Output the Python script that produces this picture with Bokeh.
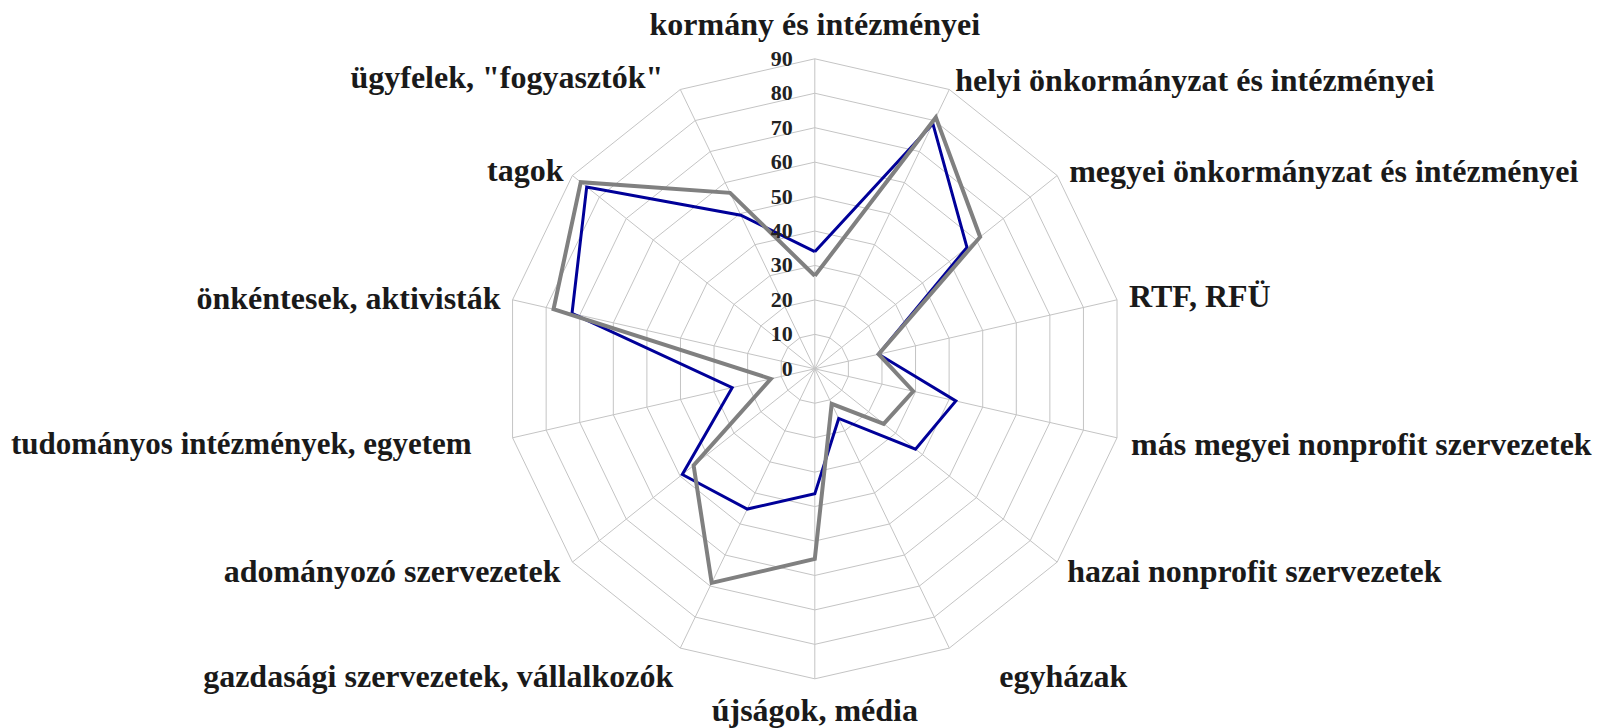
import numpy as np
from bokeh.plotting import figure
from bokeh.models import ColumnDataSource, Range1d
from bokeh.core.properties import value
from bokeh.embed import file_html
from bokeh.resources import INLINE

# ---- data ----
categories = [
    "kormány és intézményei",
    "helyi önkormányzat és intézményei",
    "megyei önkormányzat és intézményei",
    "RTF, RFÜ",
    "más megyei nonprofit szervezetek",
    "hazai nonprofit szervezetek",
    "egyházak",
    "újságok, média",
    "gazdasági szervezetek, vállalkozók",
    "adományozó szervezetek",
    "tudományos intézmények, egyetem",
    "önkéntesek, aktivisták",
    "tagok",
    "ügyfelek, \"fogyasztók\"",
]
series_blue = [34, 79, 56.5, 19, 42, 37.4, 16, 36.3, 45.2, 49.2, 24.6, 72.3, 84.7, 49.5]
series_gray = [27, 81, 61.4, 19, 29.3, 25.6, 11.3, 55.2, 69, 45, 13.1, 77.8, 86.9, 56.7]
tick_values = [0, 10, 20, 30, 40, 50, 60, 70, 80, 90]
tick_labels = [str(t) for t in tick_values]

# ---- layout (pixels) ----
W, H = 1607, 728
CX, CY = 814.3, 368.3          # centre inside the frame
R_PX = 310.0                    # radius of the 90 ring
RMAX = 90.0
S = R_PX / RMAX                 # px per unit
TICK_FS = 22
label_fs = ["32px"] * 10 + ["31px"] + ["32px"] * 3
label_align = ["center", "left", "left", "left", "left", "left", "left",
               "center", "right", "right", "right", "right", "right", "right"]
label_offsets = [(0, -35), (6, -9), (12, -5), (12, -4), (14, 6), (10, 9), (50, 28),
                 (0, 31), (-7, 28), (-12, 9), (-41, 6), (-12, -2), (-9, -6), (-17, -12)]

n = len(categories)
ang = np.arange(n) * 2 * np.pi / n   # clockwise from top


def pol(r, a):
    return r * np.sin(a), r * np.cos(a)


p = figure(width=W, height=H, output_backend="svg", toolbar_location=None,
           x_range=Range1d(-CX / S, (W - CX) / S), y_range=Range1d(-(H - CY) / S, CY / S),
           min_border=0, min_border_left=0, min_border_right=0,
           min_border_top=0, min_border_bottom=0)
p.axis.visible = False
p.grid.visible = False
p.outline_line_color = None
p.background_fill_color = "white"

GRID = "#c4c4c4"
# rings
xs, ys = [], []
for t in tick_values[1:]:
    x, y = pol(t, np.append(ang, ang[0]))
    xs.append(list(x)); ys.append(list(y))
p.multi_line(xs, ys, line_color=GRID, line_width=1)
# spokes
ex, ey = pol(RMAX, ang)
p.segment(x0=[0] * n, y0=[0] * n, x1=list(ex), y1=list(ey), line_color=GRID, line_width=1)

# series
for vals, col, lw in [(series_blue, "#000099", 3), (series_gray, "#808080", 4)]:
    v = np.array(vals + vals[:1], dtype=float)
    a = np.append(ang, ang[0])
    x, y = pol(v, a)
    p.line(list(x), list(y), line_color=col, line_width=lw, line_join="miter")

# tick labels
p.text(x=[-22 / S] * len(tick_values), y=tick_values,
       text=tick_labels, text_align="right", text_baseline="middle",
       text_font=value("Liberation Serif"), text_font_style="bold",
       text_font_size=f"{TICK_FS}px", text_color="#222222")

# category labels
lx, ly = [], []
for i in range(n):
    x, y = pol(RMAX, ang[i])
    dx, dy = label_offsets[i]
    lx.append(x + dx / S); ly.append(y - dy / S)
src = ColumnDataSource(dict(x=lx, y=ly, t=categories, al=label_align, fs=label_fs))
p.text(x="x", y="y", text="t", text_align="al", text_baseline="middle",
       text_font=value("Liberation Serif"), text_font_style="bold",
       text_font_size="fs", text_color="#1a1a1a", source=src)

open("out.html", "w").write(file_html(p, INLINE))
